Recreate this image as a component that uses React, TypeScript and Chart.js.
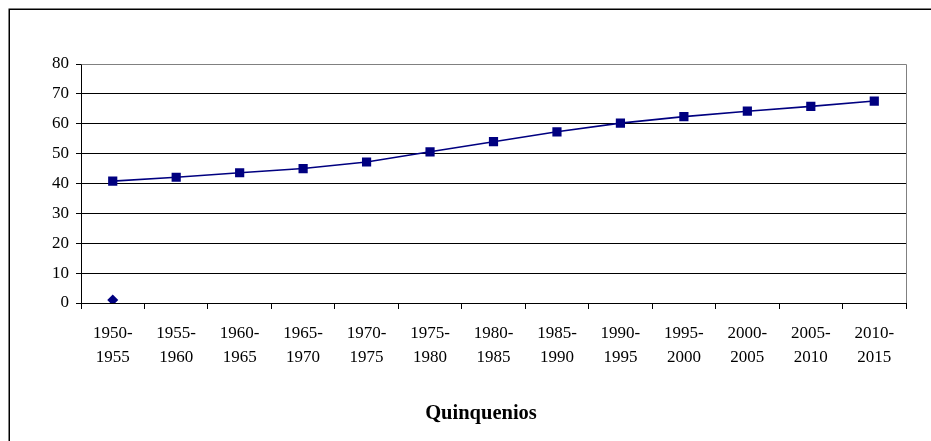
import React, { useEffect, useRef } from "react";
import { Chart, registerables } from "chart.js";

Chart.register(...registerables);

const categories: string[][] = [
  ["1950-", "1955"], ["1955-", "1960"], ["1960-", "1965"], ["1965-", "1970"],
  ["1970-", "1975"], ["1975-", "1980"], ["1980-", "1985"], ["1985-", "1990"],
  ["1990-", "1995"], ["1995-", "2000"], ["2000-", "2005"], ["2005-", "2010"],
  ["2010-", "2015"],
];
const seriesMain: number[] = [40.8, 42.1, 43.6, 45.0, 47.2, 50.6, 54.0, 57.3, 60.2, 62.4, 64.2, 65.8, 67.6];
const seriesSecond: (number | null)[] = [1, null, null, null, null, null, null, null, null, null, null, null, null];
const yTicks = { min: 0, max: 80, step: 10 };
const xTitle = "Quinquenios";

const FONT = "'Liberation Serif', 'Times New Roman', serif";

export default function App() {
  const ref = useRef<HTMLCanvasElement | null>(null);
  useEffect(() => {
    if (!ref.current) return;
    const framePlugin = {
      id: "framePlugin",
      beforeDraw(chart: any) {
        const c = chart.ctx;
        c.save();
        c.fillStyle = "#fff";
        c.fillRect(0, 0, chart.width, chart.height);
        c.strokeStyle = "#000";
        c.lineWidth = 1.5;
        c.beginPath();
        c.moveTo(9.25, chart.height + 5);
        c.lineTo(9.25, 9.25);
        c.lineTo(chart.width + 5, 9.25);
        c.stroke();
        c.restore();
      },
      afterDraw(chart: any) {
        const c = chart.ctx;
        const a = chart.chartArea;
        c.save();
        c.strokeStyle = "#808080";
        c.lineWidth = 1;
        c.beginPath();
        c.moveTo(Math.round(a.left) + 0.5, Math.round(a.top) + 0.5);
        c.lineTo(Math.round(a.right) + 0.5, Math.round(a.top) + 0.5);
        c.lineTo(Math.round(a.right) + 0.5, Math.round(a.bottom));
        c.stroke();
        c.fillStyle = "#000";
        c.font = `bold 20.5px ${FONT}`;
        c.textAlign = "center";
        c.textBaseline = "alphabetic";
        c.fillText(xTitle, 481, 418.5);
        c.restore();
      },
    };
    const chart = new Chart(ref.current, {
      type: "line",
      data: {
        labels: categories,
        datasets: [
          {
            data: seriesMain,
            borderColor: "#000080",
            backgroundColor: "#000080",
            borderWidth: 1.6,
            pointStyle: "rect",
            pointRadius: 6.5,
            pointBorderWidth: 0,
            tension: 0,
          },
          {
            data: seriesSecond,
            borderColor: "#000080",
            backgroundColor: "#000080",
            showLine: false,
            pointStyle: "rectRot",
            pointRadius: 5.5,
            pointBorderWidth: 0,
          },
        ],
      },
      plugins: [framePlugin],
      options: {
        responsive: false,
        animation: false,
        layout: { padding: { top: 64, right: 25, left: 0, bottom: 0 } },
        plugins: { legend: { display: false }, tooltip: { enabled: false }, title: { display: false } },
        scales: {
          x: {
            type: "category",
            offset: true,
            grid: {
              offset: true,
              drawOnChartArea: false,
              drawTicks: true,
              tickLength: 6,
              tickColor: "#000",
              color: "#000",
            },
            border: { display: true, color: "#000", width: 1 },
            ticks: {
              color: "#000",
              font: { family: FONT, size: 17, lineHeight: 1.43 },
              padding: 12,
              maxRotation: 0,
              minRotation: 0,
              autoSkip: false,
            },
            afterFit(scale: any) {
              scale.height = 441 - 303;
            },
          },
          y: {
            min: yTicks.min,
            max: yTicks.max,
            grid: {
              color: (ctx: any) => (ctx.tick && ctx.tick.value === yTicks.max ? "#808080" : "#000"),
              tickColor: "#000",
              tickLength: 5,
              lineWidth: 1,
            },
            border: { display: true, color: "#000", width: 1 },
            ticks: {
              stepSize: yTicks.step,
              color: "#000",
              font: { family: FONT, size: 17 },
              padding: 7,
            },
            afterFit(scale: any) {
              scale.width = 81;
            },
          },
        },
      },
    } as any);
    return () => chart.destroy();
  }, []);
  return (
    <div style={{ position: "absolute", left: 0, top: 0, width: 931, height: 441 }}>
      <canvas ref={ref} width={931} height={441} style={{ width: 931, height: 441, display: "block" }} />
    </div>
  );
}
